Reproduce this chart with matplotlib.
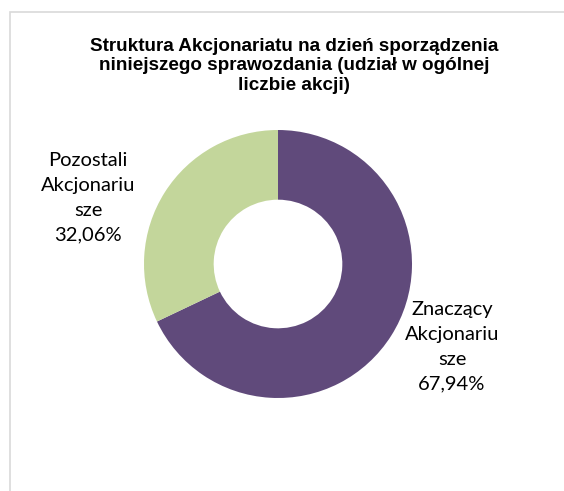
import matplotlib.pyplot as plt
from matplotlib.patches import Rectangle

# Data
labels = ['Znaczący\nAkcjonariu\nsze', 'Pozostali\nAkcjonariu\nsze']
shares = [67.94, 32.06]
colors = ['#604A7B', '#C3D69B']
title = 'Struktura Akcjonariatu na dzień sporządzenia\nniniejszego sprawozdania (udział w ogólnej\nliczbie akcji)'

W, H = 564, 491
fig = plt.figure(figsize=(W / 100, H / 100), dpi=100)

# chart frame (cropped on right and bottom)
fig.patches.append(Rectangle((9.5 / W, -0.1), 1.2, 1.1 - 12.5 / H,
                             transform=fig.transFigure, fill=False,
                             edgecolor='#D9D9D9', linewidth=1.2))

fig.text(294 / W, 1 - 66 / H, title, ha='center', va='center',
         fontsize=13.6, fontweight='bold', family='Liberation Sans',
         linespacing=1.17)

# donut centre (278, 264) px, outer radius 134 px
cx, cy, r = 278, 264, 134
ax = fig.add_axes([(cx - r) / W, (H - cy - r) / H, 2 * r / W, 2 * r / H])
ax.pie(shares, colors=colors, startangle=90, counterclock=False,
       radius=1, wedgeprops=dict(width=0.52, linewidth=0))
ax.set_xlim(-1, 1)
ax.set_ylim(-1, 1)
ax.axis('off')

# label positions (px, from the reference)
label_pos = [(452, 347), (88, 198)]
for lab, val, (lx, ly) in zip(labels, shares, label_pos):
    txt = f"{lab}\n{val:.2f}%".replace('.', ',')
    ax.text((lx - cx) / r, (cy - ly) / r, txt, ha='center', va='center',
            fontsize=14.5, family='Lato', linespacing=1.55, clip_on=False)

fig.savefig('out.png', dpi=100)
